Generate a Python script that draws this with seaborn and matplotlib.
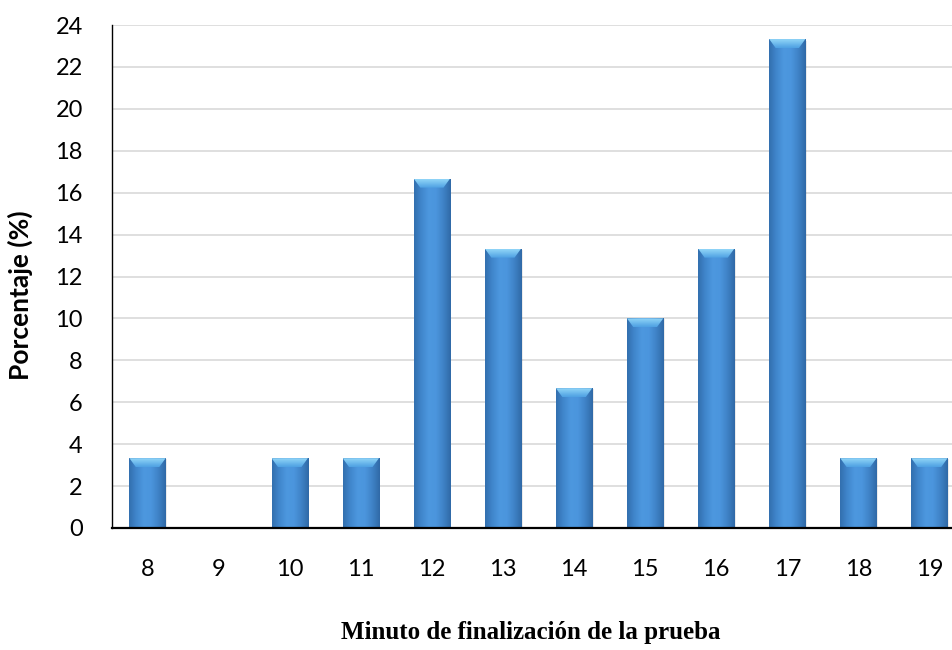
import numpy as np
import pandas as pd
import matplotlib
matplotlib.use("Agg")
import matplotlib.pyplot as plt
import seaborn as sns
from matplotlib.colors import LinearSegmentedColormap
from matplotlib.patches import Polygon

# Minute at which each participant finished the test, as % of participants
minutos = ["8", "9", "10", "11", "12", "13", "14", "15", "16", "17", "18", "19"]
porcentaje = [3.33, 0.0, 3.33, 3.33, 16.67, 13.33, 6.67, 10.0, 13.33, 23.33, 3.33, 3.33]
y_ticks = [0, 2, 4, 6, 8, 10, 12, 14, 16, 18, 20, 22, 24]

df = pd.DataFrame({"minuto": minutos, "porcentaje": porcentaje})

sns.set_theme(style="white")
plt.rcParams["font.family"] = ["Lato", "DejaVu Sans"]
plt.rcParams["text.color"] = "black"

W, H = 952, 650
fig = plt.figure(figsize=(W / 100, H / 100), dpi=100)
ax = fig.add_axes([112 / W, 1 - 528 / H, (965 - 112) / W, (528 - 25) / H])

sns.barplot(data=df, x="minuto", y="porcentaje", order=minutos,
            color="#3f83c8", width=0.51, ax=ax, zorder=3,
            linewidth=0, saturation=1)

ax.set_xlim(-0.5, len(minutos) - 0.5)
ax.set_ylim(0, 24)
ax.set_yticks(y_ticks)
ax.set_yticklabels([str(t) for t in y_ticks])
ax.yaxis.grid(True, color="#d9d9d9", linewidth=1.2, zorder=0)
ax.xaxis.grid(False)
ax.set_axisbelow(True)

for s in ["top", "right"]:
    ax.spines[s].set_visible(False)
ax.spines["left"].set_color("black")
ax.spines["left"].set_linewidth(1.0)
ax.spines["bottom"].set_color("black")
ax.spines["bottom"].set_linewidth(1.6)
ax.spines["bottom"].set_zorder(6)

ax.tick_params(axis="both", length=0, labelsize=17, colors="black",
               labelcolor="black")
ax.tick_params(axis="y", pad=21)
ax.tick_params(axis="x", pad=22)

ax.set_xlabel("")
ax.set_ylabel("")
fig.text(531 / W, 1 - 633 / H, "Minuto de finalización de la prueba",
         family=["Liberation Serif", "DejaVu Serif"], fontweight="bold",
         fontsize=18, ha="center", va="center", color="black")
fig.text(20 / W, 1 - 295 / H, "Porcentaje (%)", fontweight="bold",
         fontsize=19, rotation=90, ha="center", va="center", color="black")

# Cylinder-like shading across each bar plus a light chamfered cap
body = LinearSegmentedColormap.from_list(
    "body", ["#326fae", "#4086cc", "#4d98df", "#4b95dd", "#3f82c6", "#2f69a6"])
cap = LinearSegmentedColormap.from_list("cap", ["#4da0e2", "#92d6f8"])
grad = np.linspace(0, 1, 256).reshape(1, -1)

px_to_y = 24 / (528 - 25)
for p in list(ax.patches):
    x0, y0 = p.get_x(), p.get_y()
    w, h = p.get_width(), p.get_height()
    if h <= 0:
        continue
    im = ax.imshow(grad, cmap=body, aspect="auto", extent=(x0, x0 + w, y0, y0 + h),
                   zorder=4, interpolation="bicubic")
    im.set_clip_path(p)
    # soft drop shadow on the right side
    ax.add_patch(plt.Rectangle((x0 + w, y0), 0.02, h * 0.995, color="#000000",
                               alpha=0.08, zorder=3, linewidth=0))
    ch = 9 * px_to_y
    inset = w * 0.18
    top = y0 + h
    poly = Polygon([(x0, top), (x0 + w, top), (x0 + w - inset, top - ch),
                    (x0 + inset, top - ch)], closed=True, zorder=5, linewidth=0,
                   facecolor="none")
    ax.add_patch(poly)
    cim = ax.imshow(np.linspace(0, 1, 64).reshape(-1, 1), cmap=cap, aspect="auto",
                    extent=(x0, x0 + w, top - ch, top), zorder=5,
                    interpolation="bicubic", origin="lower")
    cim.set_clip_path(poly)

ax.set_xlim(-0.5, len(minutos) - 0.5)
ax.set_ylim(0, 24)

fig.savefig("out.png", dpi=100)
